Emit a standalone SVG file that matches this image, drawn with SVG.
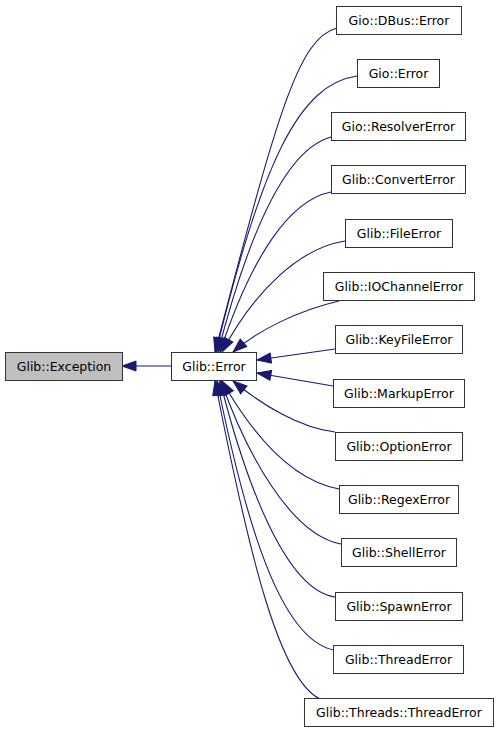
<svg xmlns="http://www.w3.org/2000/svg" width="499" height="733" viewBox="0 0 499 733">
<style>
.n rect{fill:#fff;stroke:#333;stroke-width:1}
.n text{font-family:"DejaVu Sans",sans-serif;font-size:12.5px;fill:#000;text-anchor:middle}
#exception rect{fill:#bfbfbf}
.e path{fill:none;stroke:#191970;stroke-width:1.1;marker-start:url(#ah)}
</style>
<defs>
<marker id="ah" markerUnits="userSpaceOnUse" markerWidth="15" markerHeight="11" refX="14" refY="5" orient="auto-start-reverse" overflow="visible">
<path d="M0,0 L14,5 L0,10 z" fill="#191970" stroke="#191970"/>
</marker>
</defs>
<g id="edges" class="e">
<path d="M122,366 L171,366"/>
<path d="M215,352 C277,115 298,38 337,28"/>
<path d="M216,352 C262,160 300,84 357,76"/>
<path d="M218,352 C252,220 290,148 331,137"/>
<path d="M220,352 C252,255 290,200 331,192"/>
<path d="M222,352 C255,290 300,248 345,241"/>
<path d="M233,352 C258,330 300,310 339,301"/>
<path d="M257,360 L335,349"/>
<path d="M257,373 L333,386"/>
<path d="M233,381 C262,405 300,428 335,432"/>
<path d="M222,381 C250,430 290,480 339,489"/>
<path d="M221,381 C245,450 290,535 341,544"/>
<path d="M220,381 C245,480 285,590 335,597"/>
<path d="M217,381 C245,520 280,640 334,650"/>
<path d="M215,381 C250,560 280,680 320,699"/>
</g>
<g id="exception" class="n"><rect x="5.5" y="352.5" width="117" height="28"/><text x="64" y="371">Glib::Exception</text></g>
<g id="error" class="n"><rect x="171.5" y="352.5" width="85" height="28"/><text x="214" y="371">Glib::Error</text></g>
<g id="dbus" class="n"><rect x="336.5" y="6.5" width="125" height="28"/><text x="399" y="25">Gio::DBus::Error</text></g>
<g id="gioerror" class="n"><rect x="357.5" y="59.5" width="82" height="28"/><text x="398.5" y="78">Gio::Error</text></g>
<g id="resolver" class="n"><rect x="331.5" y="112.5" width="134" height="28"/><text x="398.5" y="131">Gio::ResolverError</text></g>
<g id="convert" class="n"><rect x="331.5" y="165.5" width="134" height="28"/><text x="398.5" y="184">Glib::ConvertError</text></g>
<g id="file" class="n"><rect x="345.5" y="219.5" width="107" height="28"/><text x="399" y="238">Glib::FileError</text></g>
<g id="iochannel" class="n"><rect x="323.5" y="272.5" width="151" height="28"/><text x="399" y="291">Glib::IOChannelError</text></g>
<g id="keyfile" class="n"><rect x="335.5" y="325.5" width="127" height="28"/><text x="399" y="344">Glib::KeyFileError</text></g>
<g id="markup" class="n"><rect x="333.5" y="379.5" width="131" height="28"/><text x="399" y="398">Glib::MarkupError</text></g>
<g id="option" class="n"><rect x="335.5" y="432.5" width="127" height="28"/><text x="399" y="451">Glib::OptionError</text></g>
<g id="regex" class="n"><rect x="339.5" y="485.5" width="119" height="28"/><text x="399" y="504">Glib::RegexError</text></g>
<g id="shell" class="n"><rect x="341.5" y="538.5" width="115" height="28"/><text x="399" y="557">Glib::ShellError</text></g>
<g id="spawn" class="n"><rect x="335.5" y="592.5" width="127" height="28"/><text x="399" y="611">Glib::SpawnError</text></g>
<g id="thread" class="n"><rect x="333.5" y="645.5" width="130" height="28"/><text x="398.5" y="664">Glib::ThreadError</text></g>
<g id="threads" class="n"><rect x="304.5" y="698.5" width="189" height="28"/><text x="399" y="717">Glib::Threads::ThreadError</text></g>
</svg>
